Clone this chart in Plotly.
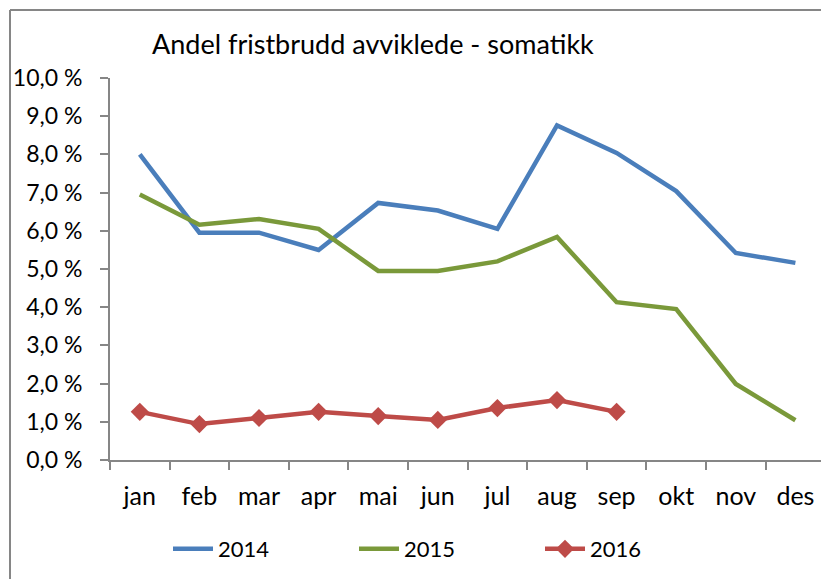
import plotly.graph_objects as go

months = ["jan", "feb", "mar", "apr", "mai", "jun", "jul", "aug", "sep", "okt", "nov", "des"]
v2014 = [8.0, 5.95, 5.95, 5.5, 6.73, 6.53, 6.05, 8.76, 8.04, 7.04, 5.42, 5.16]
v2015 = [6.95, 6.16, 6.31, 6.05, 4.95, 4.95, 5.2, 5.84, 4.13, 3.95, 1.99, 1.04]
v2016 = [1.26, 0.94, 1.1, 1.26, 1.15, 1.05, 1.36, 1.57, 1.26]
y_ticks = [0, 1, 2, 3, 4, 5, 6, 7, 8, 9, 10]
y_ticktext = [f"{v:.1f}".replace(".", ",") + " %" for v in y_ticks]

W, H = 821, 579
ML, MR, MT, MB = 110, 0, 78, 119
PH = H - MT - MB
FONT = "Lato, Open Sans, sans-serif"

fig = go.Figure()
fig.add_trace(go.Scatter(x=months, y=v2014, name="2014", mode="lines",
                         line=dict(color="#4a7ebb", width=4.5)))
fig.add_trace(go.Scatter(x=months, y=v2015, name="2015", mode="lines",
                         line=dict(color="#7a993a", width=4.5)))
fig.add_trace(go.Scatter(x=months[:len(v2016)], y=v2016, name="2016", mode="lines+markers",
                         line=dict(color="#be4b48", width=4.5),
                         marker=dict(symbol="diamond", size=14, color="#be4b48")))

pw = W - ML - MR
cat_w = 59.6
fig.update_layout(
    width=W, height=H,
    margin=dict(l=ML, r=MR, t=MT, b=MB, autoexpand=False),
    paper_bgcolor="white", plot_bgcolor="white",
    font=dict(family=FONT, color="black", size=18),
    showlegend=True,
    legend=dict(orientation="h", x=(168 - ML) / pw, xanchor="left",
                y=-(549 - (H - MB)) / PH, yanchor="middle",
                font=dict(size=22, family=FONT), entrywidth=131, entrywidthmode="pixels",
                itemwidth=40, bgcolor="rgba(0,0,0,0)"),
    xaxis=dict(type="category", categoryorder="array", categoryarray=months,
               range=[-0.5, -0.5 + pw / cat_w], automargin=False,
               showline=True, linecolor="#868686", linewidth=2,
               ticks="outside", ticklen=8, tickwidth=2, tickcolor="#868686",
               tickson="boundaries", showgrid=False, zeroline=False,
               tickfont=dict(size=25), ticklabelstandoff=13),
    yaxis=dict(range=[0, 10], tickvals=y_ticks, ticktext=y_ticktext, automargin=False,
               showline=True, linecolor="#868686", linewidth=2,
               ticks="outside", ticklen=8, tickwidth=2, tickcolor="#868686",
               showgrid=False, zeroline=False, tickfont=dict(size=23),
               ticklabelstandoff=13),
    annotations=[dict(text="Andel fristbrudd avviklede - somatikk", xref="paper", yref="paper",
                      x=(150 - ML) / pw, xanchor="left",
                      y=1 + (MT - 44) / PH, yanchor="middle",
                      showarrow=False, font=dict(size=27, family=FONT, color="black"))],
    shapes=[
        dict(type="line", xref="paper", yref="paper",
             x0=(10 - ML) / pw, x1=(10 - ML) / pw,
             y0=1 + (MT - 10) / PH, y1=-(MB + 5) / PH,
             line=dict(color="#868686", width=2)),
        dict(type="line", xref="paper", yref="paper",
             x0=(10 - ML) / pw, x1=1.02,
             y0=1 + (MT - 10) / PH, y1=1 + (MT - 10) / PH,
             line=dict(color="#868686", width=2)),
    ],
)

fig.write_html("out.html", config={"displayModeBar": False},
               post_script="document.body.style.margin='0';document.body.style.overflow='hidden';")
